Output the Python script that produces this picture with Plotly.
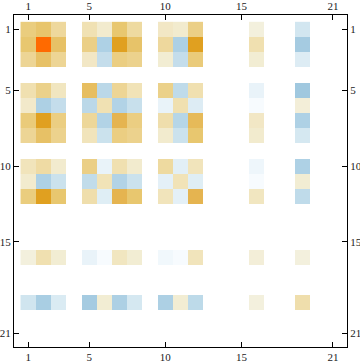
import plotly.graph_objects as go

used_cols = [1, 2, 3, 5, 6, 7, 8, 10, 11, 12, 16, 19]
used_rows = [1, 2, 3, 5, 6, 7, 8, 10, 11, 12, 16, 19]
row_1 = [26, 31, 18, 12, 6, 30, 17, 8, 6, 24, 3, -16]
row_2 = [30, 100, 33, 24, -32, 50, 32, 18, -33, 50, 13, -37]
row_3 = [20, 33, 20, 8, -22, 25, 22, 5, -22, 27, 5, -12]
row_5 = [13, 23, 9, 35, -26, 20, 11, 23, -24, 13, -7, -40]
row_6 = [7, -33, -22, -26, 12, -30, -20, -7, 13, -12, -2, 4]
row_7 = [27, 50, 25, 19, -30, 40, 25, 14, -28, 37, 8, -32]
row_8 = [20, 33, 22, 10, -19, 25, 22, 6, -19, 30, 6, -15]
row_10 = [10, 16, 6, 24, -7, 13, 6, 17, -10, 10, -5, -32]
row_11 = [6, -32, -19, -23, 11, -30, -19, -9, 11, -11, -2, 5]
row_12 = [26, 50, 30, 14, -11, 40, 30, 10, -9, 40, 9, -24]
row_16 = [3, 13, 5, -7, -2, 9, 5, -4, -2, 10, 4, 3]
row_19 = [-17, -35, -13, -37, 5, -33, -15, -33, 5, -25, 3, 14]
rows = [row_1, row_2, row_3, row_5, row_6, row_7, row_8, row_10, row_11, row_12, row_16, row_19]
ticks = [1, 5, 10, 15, 21]

z_anchor = [-40, -30, -20, -10, -3, 0, 3, 10, 20, 30, 40, 50, 100]
c_anchor = ["#a0c8df", "#b2d3e6", "#c8e0ec", "#e2eff6", "#f3f9fd", "#ffffff", "#f3f0dd",
            "#f1e4bb", "#edd595", "#e8c76f", "#e5b450", "#e0a020", "#ff6a00"]
zmin, zmax = z_anchor[0], z_anchor[-1]
colorscale = [[(v - zmin) / (zmax - zmin), c] for v, c in zip(z_anchor, c_anchor)]

grid = list(range(1, 22))
z = [[None] * 21 for _ in grid]
for r, vals in zip(used_rows, rows):
    for c, v in zip(used_cols, vals):
        z[r - 1][c - 1] = v

fig = go.Figure()
fig.add_trace(go.Heatmap(x=grid, y=grid, z=z, colorscale=colorscale, zmin=zmin, zmax=zmax,
                         showscale=False, hoverongaps=False, xaxis="x", yaxis="y"))
fig.add_trace(go.Scatter(x=[None], y=[None], xaxis="x2", yaxis="y2", showlegend=False))

font = dict(family="Liberation Serif", size=11, color="#1a1a1a")
ax = dict(tickmode="array", tickvals=ticks, ticktext=[str(t) for t in ticks], ticks="inside",
          ticklen=5, tickwidth=1, tickcolor="black", showline=True, linecolor="black", linewidth=1,
          showgrid=False, zeroline=False, tickfont=font, automargin=False)
xr = [0.07, 21.92]
yr = [21.92, 0.05]
fig.update_layout(
    width=360, height=363, margin=dict(l=14, r=13, t=15, b=16),
    paper_bgcolor="white", plot_bgcolor="white", showlegend=False,
    xaxis=dict(range=xr, side="bottom", anchor="y", **ax),
    yaxis=dict(range=yr, side="left", anchor="x", **ax),
    xaxis2=dict(range=xr, side="top", overlaying="x", anchor="y2", **ax),
    yaxis2=dict(range=yr, side="right", overlaying="y", anchor="x2", **ax),
)
fig.write_html("out.html", config={"displayModeBar": False},
               post_script="document.body.style.margin='0';")
